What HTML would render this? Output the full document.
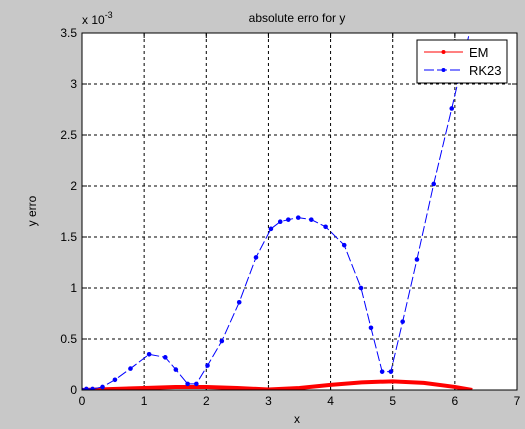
<!DOCTYPE html>
<html><head><meta charset="utf-8"><style>
body{margin:0;background:#c8c8c8;}
svg{display:block;font-family:"Liberation Sans",sans-serif;}
</style></head><body>
<svg id="chart" width="525" height="429" viewBox="0 0 525 429">
<rect width="525" height="429" fill="#c8c8c8"/>
<rect x="82" y="33" width="435" height="357" fill="#fff"/>
<g id="grid"></g>
<g id="ticks"></g>
<defs><clipPath id="clip"><rect x="82" y="33" width="435" height="357"/></clipPath></defs>
<g id="series" clip-path="url(#clip)"></g>
<rect x="82" y="33" width="435" height="357" fill="none" stroke="#000" stroke-width="1"/>
<text x="297" y="22" font-size="12" text-anchor="middle">absolute erro for y</text>
<text x="82" y="24" font-size="12">x 10<tspan dy="-6" font-size="9">-3</tspan></text>
<text x="297" y="423" font-size="12" text-anchor="middle">x</text>
<text x="36" y="211" font-size="12" text-anchor="middle" transform="rotate(-90 36 211)">y erro</text>
<g>
<rect x="417" y="40" width="90" height="43" fill="#fff" stroke="#000"/>
<g>
<line x1="424" y1="52" x2="463" y2="52" stroke="#f00"/><circle cx="443.5" cy="52" r="2" fill="#f00"/>
<text x="469" y="57" font-size="13">EM</text></g>
<g>
<line x1="424" y1="70" x2="463" y2="70" stroke="#00f" stroke-dasharray="10,3"/><circle cx="443.5" cy="70" r="2" fill="#00f"/>
<text x="469" y="75" font-size="13">RK23</text></g>
</g>
</svg>
<script>
const xTicks=[0,1,2,3,4,5,6,7];
const yTicks=[0,0.5,1,1.5,2,2.5,3,3.5];
const yTickLabels=["0","0.5","1","1.5","2","2.5","3","3.5"];
const rkX=[0,0.07,0.17,0.33,0.53,0.78,1.08,1.34,1.51,1.70,1.84,2.02,2.25,2.53,2.80,3.04,3.19,3.32,3.48,3.69,3.92,4.22,4.49,4.65,4.83,4.97,5.16,5.39,5.66,5.95,6.28];
const rkY=[0,0.01,0.01,0.03,0.10,0.21,0.35,0.32,0.20,0.06,0.06,0.24,0.48,0.86,1.30,1.58,1.65,1.67,1.69,1.67,1.60,1.42,1.00,0.61,0.18,0.18,0.67,1.28,2.02,2.76,3.62];
const emX=[0,0.5,1,1.5,2,2.5,3,3.5,4,4.5,5,5.5,6,6.28];
const emY=[0,0.01,0.02,0.03,0.03,0.02,0.005,0.02,0.05,0.075,0.085,0.07,0.03,0];
const NS="http://www.w3.org/2000/svg";
const sx=v=>82+v*435/7, sy=v=>390-v*357/3.5;
function mk(t,a,p){const e=document.createElementNS(NS,t);for(const k in a)e.setAttribute(k,a[k]);p.appendChild(e);return e;}
const grid=document.getElementById('grid'),ticks=document.getElementById('ticks'),ser=document.getElementById('series');
xTicks.forEach(v=>{
  if(v>0&&v<7){const g=mk('line',{x1:sx(v),x2:sx(v),y1:33,y2:390,stroke:'#000','stroke-dasharray':'3,3','stroke-width':1},grid);
  
  }
  const tm=mk('path',{d:`M${sx(v)},390v-5M${sx(v)},33v5`,stroke:'#000'},ticks);
  
  
  const t=mk('text',{x:sx(v),y:405,'font-size':12,'text-anchor':'middle'},ticks);t.textContent=v;
  
  
});
yTicks.forEach((v,i)=>{
  if(v>0&&v<3.5){const g=mk('line',{x1:82,x2:517,y1:sy(v),y2:sy(v),stroke:'#000','stroke-dasharray':'3,3','stroke-width':1},grid);
  
  }
  const tm=mk('path',{d:`M82,${sy(v)}h5M517,${sy(v)}h-5`,stroke:'#000'},ticks);
  
  
  const t=mk('text',{x:77,y:sy(v)+4,'font-size':12,'text-anchor':'end'},ticks);t.textContent=yTickLabels[i];
  
  
});
const em=mk('polyline',{points:emX.map((x,i)=>sx(x)+','+sy(emY[i])).join(' '),fill:'none',stroke:'#f00','stroke-width':4},ser);


const rk=mk('polyline',{points:rkX.map((x,i)=>sx(x)+','+sy(rkY[i])).join(' '),fill:'none',stroke:'#00f','stroke-width':1,'stroke-dasharray':'10,3'},ser);


rkX.forEach((x,i)=>{const c=mk('circle',{cx:sx(x),cy:sy(rkY[i]),r:2.3,fill:'#00f'},ser);
  
  });
</script>
</body></html>
